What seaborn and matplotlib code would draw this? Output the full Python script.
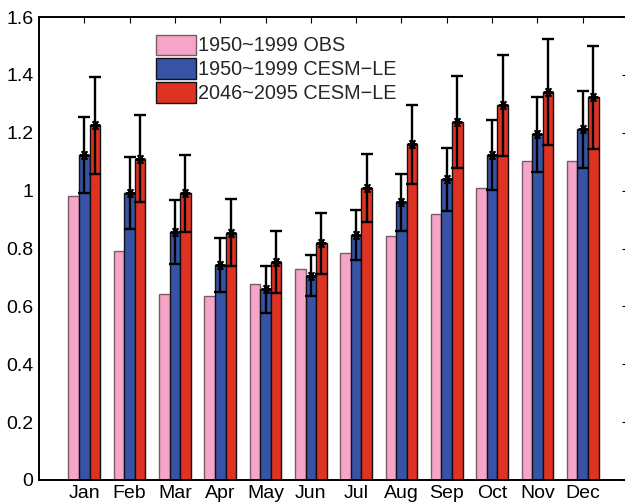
import numpy as np
import pandas as pd
import matplotlib
matplotlib.use("Agg")
import matplotlib.pyplot as plt
import matplotlib.patches as mpatches
import seaborn as sns

months = ["Jan", "Feb", "Mar", "Apr", "May", "Jun", "Jul", "Aug", "Sep", "Oct", "Nov", "Dec"]
series = ["1950~1999 OBS", "1950~1999 CESM\u2212LE", "2046~2095 CESM\u2212LE"]

obs_hist = [0.981, 0.791, 0.643, 0.636, 0.677, 0.728, 0.783, 0.844, 0.918, 1.010, 1.103, 1.101]
cesm_hist = [1.123, 0.991, 0.856, 0.743, 0.659, 0.706, 0.847, 0.960, 1.039, 1.123, 1.194, 1.212]
cesm_fut = [1.226, 1.111, 0.991, 0.855, 0.752, 0.818, 1.008, 1.160, 1.236, 1.295, 1.340, 1.323]
err_hist = [0.130, 0.124, 0.110, 0.095, 0.082, 0.071, 0.086, 0.099, 0.110, 0.121, 0.129, 0.133]
err_fut = [0.167, 0.152, 0.133, 0.115, 0.107, 0.106, 0.117, 0.137, 0.159, 0.175, 0.183, 0.178]

colors = ["#F5A6C8", "#3653A6", "#E03222"]
edges = ["#7a5a68", "#111111", "#111111"]

df = pd.DataFrame({
    "month": months * 3,
    "value": obs_hist + cesm_hist + cesm_fut,
    "series": [series[0]] * 12 + [series[1]] * 12 + [series[2]] * 12,
})

sns.set_style("white")
plt.rcParams["font.family"] = ["Liberation Sans", "DejaVu Sans"]

fig = plt.figure(figsize=(6.25, 5.03), dpi=100)
ax = fig.add_axes([39 / 625, 23 / 503, 589 / 625, 463 / 503])

sns.barplot(data=df, x="month", y="value", hue="series", order=months,
            hue_order=series, palette=colors, width=0.7, gap=0, dodge=True,
            saturation=1, errorbar=None, legend=False, ax=ax)

# style bar edges and collect bar centers
bars_by_series = [[], [], []]
for i, cont in enumerate(ax.containers):
    for p in cont.patches:
        p.set_edgecolor(edges[i])
        p.set_linewidth(1.0)
        bars_by_series[i].append(p.get_x() + p.get_width() / 2)

for idx, (vals, errs) in zip([1, 2], [(cesm_hist, err_hist), (cesm_fut, err_fut)]):
    ax.errorbar(bars_by_series[idx], vals, yerr=errs, fmt="none", ecolor="black",
                elinewidth=1.7, capsize=4, capthick=1.7, zorder=5)
    ax.plot(bars_by_series[idx], vals, linestyle="none", marker=(6, 2, 30),
            markersize=7, markeredgewidth=1.4, color="black", zorder=6)

ax.set_xlim(-1, 12)
ax.set_ylim(0, 1.6)
ax.set_yticks([0, 0.2, 0.4, 0.6, 0.8, 1.0, 1.2, 1.4, 1.6])
ax.set_yticklabels(["0", "0.2", "0.4", "0.6", "0.8", "1", "1.2", "1.4", "1.6"])
ax.set_xlabel("")
ax.set_ylabel("")
for s in ax.spines.values():
    s.set_visible(True)
    s.set_color("black")
    s.set_linewidth(1.4)
ax.spines["right"].set_visible(False)
ax.tick_params(axis="both", which="major", direction="in", length=4, width=0.8,
               top=True, right=True, labelsize=14, colors="black", pad=4)
ax.tick_params(axis="x", length=4, pad=3.5)

handles = [mpatches.Patch(facecolor=c, edgecolor=e, linewidth=1.0) for c, e in zip(colors, edges)]
ax.legend(handles, series, loc="upper left", bbox_to_anchor=(0.199, 0.962),
          frameon=False, fontsize=14.3, handlelength=2.0, handleheight=1.2,
          labelspacing=0.15, handletextpad=0.12, borderpad=0, borderaxespad=0)

fig.savefig("out.png", dpi=100)
